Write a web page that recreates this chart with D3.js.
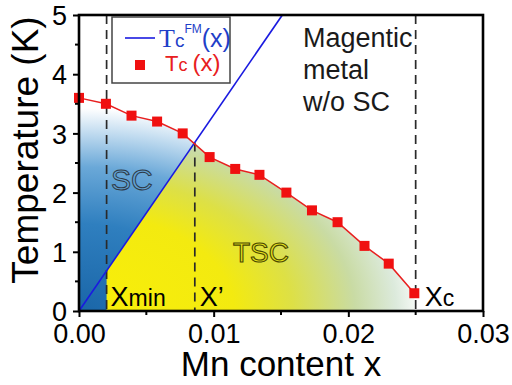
<!DOCTYPE html>
<html>
<head>
<meta charset="utf-8">
<script src="https://cdn.jsdelivr.net/npm/d3@7"></script>
<style>
  body { margin: 0; background: #fff; }
  text { font-family: "Liberation Sans", Arial, sans-serif; }
</style>
</head>
<body>
<script>
var width = 512;
var height = 385;
var paddingLeft = 79;
var paddingTop = 15;
var plotWidth = 404;
var plotHeight = 296;

// measured Tc(x) points (red squares)
var tcX = [0, 0.002, 0.0039, 0.0058, 0.0077, 0.0097, 0.0116, 0.0134, 0.0154, 0.0173, 0.0192, 0.0212, 0.0230, 0.0249];
var tcT = [3.6, 3.5, 3.3, 3.2, 3.0, 2.6, 2.4, 2.3, 2.0, 1.7, 1.5, 1.1, 0.8, 0.3];
// Tc^FM(x) line (blue)
var fmX = [0, 0.0151];
var fmT = [0, 5];
// characteristic contents
var xMin = 0.00205;
var xPrime = 0.0086;
var xC = 0.025;
var xTicks = [0, 0.01, 0.02, 0.03];
var yTicks = [0, 1, 2, 3, 4, 5];

var svg = d3.select("body").append("svg")
  .attr("width", width)
  .attr("height", height);

var xScale = d3.scaleLinear().domain([0, 0.03]).range([paddingLeft, paddingLeft + plotWidth]);
var yScale = d3.scaleLinear().domain([0, 5]).range([paddingTop + plotHeight, paddingTop]);

var fmAt = x => fmT[0] + (fmT[1] - fmT[0]) * (x - fmX[0]) / (fmX[1] - fmX[0]);
var tcPoints = tcX.map((x, i) => [x, tcT[i]]);

var defs = svg.append("defs");

// gradients: ellipse centred on the bottom-left corner
function radial(id, stops) {
  var g = defs.append("radialGradient")
    .attr("id", id)
    .attr("gradientUnits", "userSpaceOnUse")
    .attr("cx", 0).attr("cy", 0).attr("r", 1)
    .attr("gradientTransform", "translate(" + xScale(0) + "," + yScale(0) + ") scale(345,218)");
  stops.forEach(s => g.append("stop").attr("offset", s[0]).attr("stop-color", s[1]));
}
radial("blueGrad", [[0, "#1a66a8"], [0.4, "#2f7fbf"], [0.66, "#6aa8d8"], [0.82, "#c2dcf0"], [0.93, "#ffffff"]]);
radial("yellowGrad", [[0, "#f9ef08"], [0.45, "#f3ea10"], [0.62, "#dde046"], [0.8, "#c9dba4"], [0.92, "#dceadc"], [1.0, "#ffffff"]]);

// region under the Tc curve
var areaTc = d3.area()
  .x(d => xScale(d[0]))
  .y0(yScale(0))
  .y1(d => yScale(d[1]));

defs.append("clipPath").attr("id", "underTc")
  .append("path").attr("d", areaTc(tcPoints));

svg.append("path")
  .attr("d", areaTc(tcPoints))
  .attr("fill", "url(#blueGrad)");

// TSC region: right of xMin and below the FM line
var tscPoly = [[xMin, 0], [xMin, fmAt(xMin)], [fmX[1], fmT[1]], [0.03, 5], [0.03, 0]];
svg.append("path")
  .attr("clip-path", "url(#underTc)")
  .attr("d", d3.line().x(d => xScale(d[0])).y(d => yScale(d[1]))(tscPoly) + "Z")
  .attr("fill", "url(#yellowGrad)");

// dashed lines
var dashes = [[xMin, 5], [xPrime, fmAt(xPrime)], [xC, 5]];
svg.append("g").selectAll("line")
  .data(dashes)
  .enter().append("line")
  .attr("x1", d => xScale(d[0]))
  .attr("x2", d => xScale(d[0]))
  .attr("y1", d => yScale(d[1]))
  .attr("y2", yScale(0))
  .attr("stroke", "#2a2a2a")
  .attr("stroke-width", 1.7)
  .attr("stroke-dasharray", "9,6");

// region labels
svg.append("text")
  .attr("x", 111).attr("y", 190)
  .attr("font-size", 30)
  .attr("fill", "#62a3d4")
  .attr("stroke", "#2e3a48")
  .attr("stroke-width", 1)
  .text("SC");

svg.append("text")
  .attr("x", 233).attr("y", 262)
  .attr("font-size", 28)
  .attr("fill", "#e6e21c")
  .attr("stroke", "#4a4800")
  .attr("stroke-width", 1.1)
  .text("TSC");

// FM line
svg.append("path")
  .attr("d", d3.line().x(d => xScale(d)).y((d, i) => yScale(fmT[i]))(fmX))
  .attr("stroke", "#1a1ae0")
  .attr("stroke-width", 1.6)
  .attr("fill", "none");

// Tc curve
svg.append("path")
  .attr("d", d3.line().x(d => xScale(d[0])).y(d => yScale(d[1]))(tcPoints))
  .attr("stroke", "#e82020")
  .attr("stroke-width", 1.5)
  .attr("fill", "none");

svg.append("g").selectAll("rect")
  .data(tcPoints)
  .enter().append("rect")
  .attr("x", d => xScale(d[0]) - 5)
  .attr("y", d => yScale(d[1]) - 5)
  .attr("width", 10)
  .attr("height", 10)
  .attr("fill", "#f01010");

// x labels at the bottom
function xLabel(x, big, small) {
  var t = svg.append("text").attr("x", x).attr("y", 306).attr("fill", "#000");
  t.append("tspan").attr("font-size", 27).text(big);
  if (small) t.append("tspan").attr("font-size", 23).text(small);
}
xLabel(xScale(xMin) + 4, "X", "min");
xLabel(xScale(xPrime) + 5, "X\u2019");
xLabel(xScale(xC) + 9, "X", "c");

// magnetic metal label
var mag = svg.append("text").attr("font-size", 27).attr("fill", "#1a1a1a");
["Magentic", "metal", "w/o SC"].forEach((s, i) => {
  mag.append("tspan").attr("x", 303).attr("y", 47 + i * 32).text(s);
});

// axes
var xAxis = d3.axisBottom(xScale).tickValues(xTicks).tickFormat(d3.format(".2f")).tickSize(6).tickPadding(7);
var yAxis = d3.axisLeft(yScale).tickValues(yTicks).tickFormat(d3.format("d")).tickSize(6).tickPadding(6);

var gx = svg.append("g")
  .attr("transform", "translate(0," + yScale(0) + ")")
  .call(xAxis);
var gy = svg.append("g")
  .attr("transform", "translate(" + xScale(0) + ",0)")
  .call(yAxis);

// minor ticks
svg.append("g").selectAll("line")
  .data([0.005, 0.015, 0.025])
  .enter().append("line")
  .attr("x1", d => xScale(d)).attr("x2", d => xScale(d))
  .attr("y1", yScale(0)).attr("y2", yScale(0) + 4)
  .attr("stroke", "#000").attr("stroke-width", 2);
svg.append("g").selectAll("line")
  .data([0.5, 1.5, 2.5, 3.5, 4.5])
  .enter().append("line")
  .attr("x1", xScale(0)).attr("x2", xScale(0) - 4)
  .attr("y1", d => yScale(d)).attr("y2", d => yScale(d))
  .attr("stroke", "#000").attr("stroke-width", 2);

[gx, gy].forEach(g => {
  g.select(".domain").remove();
  g.selectAll(".tick line").attr("stroke", "#000").attr("stroke-width", 2);
  g.selectAll(".tick text").attr("font-size", 27).attr("fill", "#000")
    .style("font-family", "'Liberation Sans', Arial, sans-serif");
});
gy.selectAll(".tick text").attr("dy", "0.36em");

// frame
svg.append("rect")
  .attr("x", xScale(0)).attr("y", yScale(5))
  .attr("width", plotWidth).attr("height", plotHeight)
  .attr("fill", "none")
  .attr("stroke", "#000")
  .attr("stroke-width", 2.6);

// axis titles
svg.append("text")
  .attr("x", xScale(0) + plotWidth / 2).attr("y", 376)
  .attr("text-anchor", "middle")
  .attr("font-size", 35)
  .attr("fill", "#000")
  .text("Mn content x");

svg.append("text")
  .attr("transform", "translate(38,150) rotate(-90)")
  .attr("text-anchor", "middle")
  .attr("font-size", 37)
  .attr("fill", "#000")
  .text("Temperature (K)");

// legend
var legend = svg.append("g").attr("id", "legend");
legend.append("rect")
  .attr("x", 112).attr("y", 17)
  .attr("width", 118).attr("height", 66)
  .attr("fill", "#fff")
  .attr("stroke", "#444")
  .attr("stroke-width", 1.5);
legend.append("line")
  .attr("x1", 125).attr("x2", 155)
  .attr("y1", 38).attr("y2", 38)
  .attr("stroke", "#1a1ae0").attr("stroke-width", 1.6);
var l1 = legend.append("text").attr("x", 159).attr("y", 47).attr("fill", "#1f3fc8");
l1.append("tspan").attr("font-size", 26).style("font-family", "'Liberation Serif', serif").text("T");
l1.append("tspan").attr("font-size", 19).text("c");
l1.append("tspan").attr("font-size", 12).attr("dy", -14).text("FM");
l1.append("tspan").attr("font-size", 25).attr("dy", 14).text("(x)");

legend.append("rect")
  .attr("x", 135).attr("y", 60)
  .attr("width", 10).attr("height", 10)
  .attr("fill", "#f01010");
var l2 = legend.append("text").attr("x", 165).attr("y", 71).attr("fill", "#e82020");
l2.append("tspan").attr("font-size", 22).text("T");
l2.append("tspan").attr("font-size", 18).text("c ");
l2.append("tspan").attr("font-size", 24).text("(x)");
</script>
</body>
</html>
